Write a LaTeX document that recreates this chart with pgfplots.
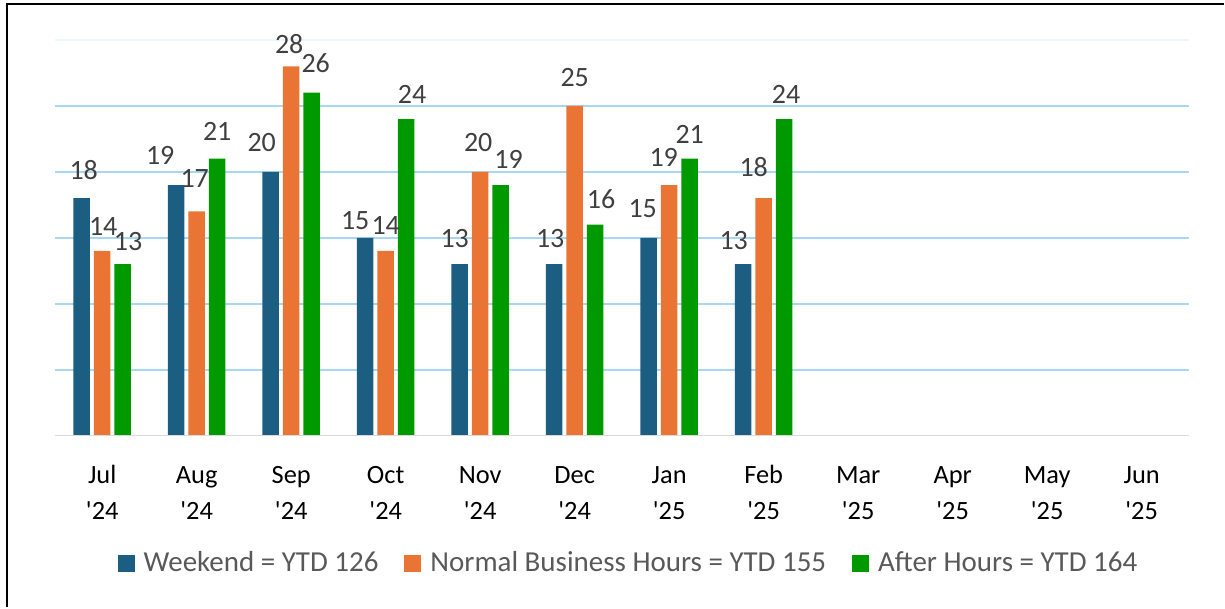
\documentclass[border=0pt]{standalone}
\usepackage{fontspec}
\setmainfont{Carlito}
\usepackage{pgfplots}
\usepackage{pgfplotstable}
\pgfplotsset{compat=1.18}
\definecolor{cWeek}{HTML}{1B5E82}
\definecolor{cNorm}{HTML}{EA7434}
\definecolor{cAfter}{HTML}{009A00}
\definecolor{cGrid}{HTML}{A8D8F0}
\definecolor{cGridFaint}{HTML}{EEF6FC}
\definecolor{cBase}{HTML}{D9D9D9}
\definecolor{cLab}{HTML}{404040}
\definecolor{cLeg}{HTML}{595959}
% x = month index, y = value, dx/dy = label offset (pt)
\pgfplotstableread{
x y dx dy
0 18 1 9
1 19 -8 10
2 20 -4.5 10
3 15 -5 4
4 13 -2.5 8
5 13 -2 8
6 15 -3 10
7 13 -4.75 7
}\weekend
\pgfplotstableread{
x y dx dy
0 14 0.5 7.5
1 17 -1 12
2 28 -1 6
3 14 0 8
4 20 -1 10
5 25 0 9.5
6 19 -2.75 9
7 18 -5 10.5
}\normal
\pgfplotstableread{
x y dx dy
0 13 2.75 6.5
1 21 0 9
2 26 2 10
3 24 3 7.5
4 19 4 8
5 16 3 8
6 21 0 7.5
7 24 1 7.5
}\after
\begin{document}
\begin{tikzpicture}
\begin{axis}[
  scale only axis, width=567.5pt, height=198pt,
  xmin=-0.5, xmax=11.5, ymin=0, ymax=30,
  ybar, bar width=8.25pt,
  axis line style={draw=none},
  major tick length=0pt,
  xtick={0,...,11},
  xticklabels={{Jul\\\textquotesingle24},{Aug\\\textquotesingle24},{Sep\\\textquotesingle24},{Oct\\\textquotesingle24},{Nov\\\textquotesingle24},{Dec\\\textquotesingle24},{Jan\\\textquotesingle25},{Feb\\\textquotesingle25},{Mar\\\textquotesingle25},{Apr\\\textquotesingle25},{May\\\textquotesingle25},{Jun\\\textquotesingle25}},
  xticklabel style={font=\fontsize{13.2}{18}\selectfont, align=center, anchor=base, yshift=-42pt, text=black},
  ytick={5,10,15,20,25}, yticklabels={},
  ymajorgrids, grid style={cGrid, line width=0.9pt},
  extra y ticks={30}, extra y tick labels={},
  extra y tick style={grid style={cGridFaint, line width=0.9pt}},
  /pgf/number format/assume math mode=true,
  legend style={at={(0.5066,-0.323)}, anchor=center, legend columns=-1, draw=none, fill=none,
    font=\fontsize{14.5}{17}\selectfont, text=cLeg,
    /tikz/every odd column/.append style={column sep=2.5pt},
    /tikz/every even column/.append style={column sep=11pt}},
  legend image code/.code={\draw[#1,/tikz/.cd,draw=none] (0pt,-4.25pt) rectangle (8.5pt,4.25pt);},
  lab/.style={
    nodes near coords,
    visualization depends on={\thisrow{dx}\as\labdx},
    visualization depends on={\thisrow{dy}\as\labdy},
    every node near coord/.append style={font=\fontsize{14}{16}\selectfont, text=cLab, inner sep=0pt, xshift=\labdx pt, yshift=\labdy pt}},
]
\addplot[fill=cWeek, draw=none, bar shift=-10.25pt, lab] table[x=x,y=y] {\weekend};
\addplot[fill=cNorm, draw=none, bar shift=0pt, lab] table[x=x,y=y] {\normal};
\addplot[fill=cAfter, draw=none, bar shift=10.25pt, lab] table[x=x,y=y] {\after};
\legend{Weekend = YTD 126, Normal Business Hours = YTD 155, After Hours = YTD 164}
\draw[cBase, line width=1pt] (rel axis cs:0,0) -- (rel axis cs:1,0);
\end{axis}
\pgfresetboundingbox
\coordinate (BL) at ([xshift=-27.5pt,yshift=-86pt]current axis.south west);
\coordinate (TR) at ([xshift=17.5pt,yshift=20pt]current axis.north east);
\path (BL) rectangle (TR);
\draw[black, line width=1.1pt] ([xshift=3.5pt]BL) |- ([yshift=-2pt]TR);
\end{tikzpicture}
\end{document}
